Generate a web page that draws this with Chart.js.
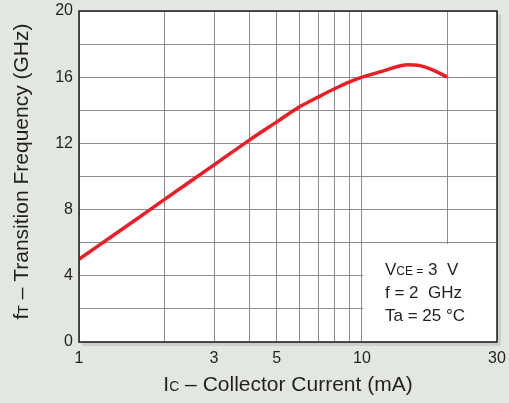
<!DOCTYPE html>
<html>
<head>
<meta charset="utf-8">
<script src="https://cdn.jsdelivr.net/npm/chart.js@4.4.1/dist/chart.umd.min.js"></script>
<style>
  html, body { margin: 0; padding: 0; background: #e2e8e1; }
  #wrap { width: 509px; height: 403px; position: relative; }
</style>
</head>
<body>
<div id="wrap"><canvas id="ftChart"></canvas></div>
<script>
// collector current (mA) vs transition frequency (GHz)
const currentMA = [1, 1.5, 2, 3, 4, 5, 6, 7, 8, 9, 10, 12, 14.5, 16, 18, 20];
const ftGHz = [5.0, 7.1, 8.6, 10.7, 12.2, 13.3, 14.2, 14.8, 15.3, 15.7, 16.0, 16.4, 16.75, 16.7, 16.4, 16.0];
const xGridValues = [1, 2, 3, 4, 5, 6, 7, 8, 9, 10, 20, 30];
const xTickLabels = [1, 3, 5, 10, 30];
const yTickLabels = [0, 4, 8, 12, 16, 20];

const FONT = '"Liberation Sans", Arial, Helvetica, sans-serif';
const TEXT = '#231f20';

// draw runs of [text, size] on one baseline, returns width
function drawRuns(ctx, runs, x, y, measureOnly) {
    let w = 0;
    for (let r of runs) {
        ctx.font = r[1] + 'px ' + FONT;
        if (!measureOnly) ctx.fillText(r[0], x + w, y);
        w += ctx.measureText(r[0]).width;
    }
    return w;
}

const conditionsBox = {
    id: 'conditionsBox',
    beforeDraw(chart) {
        // white plot area
        let a = chart.chartArea;
        let ctx = chart.ctx;
        ctx.save();
        ctx.fillStyle = '#ffffff';
        ctx.fillRect(a.left, a.top, a.right - a.left, a.bottom - a.top);
        ctx.restore();
    },
    beforeDatasetsDraw(chart) {
        // blank out the grid behind the conditions text
        let ctx = chart.ctx;
        let xs = chart.scales.x, ys = chart.scales.y;
        let left = Math.round(xs.getPixelForValue(10)) + 1;
        let top = Math.round(ys.getPixelForValue(6)) + 1;
        ctx.save();
        ctx.fillStyle = '#ffffff';
        ctx.fillRect(left, top, chart.chartArea.right - left, chart.chartArea.bottom - top);
        ctx.restore();
    },
    afterDraw(chart) {
        let ctx = chart.ctx;
        let a = chart.chartArea;
        ctx.save();
        // soft shadow on right and bottom of frame
        ctx.fillStyle = '#ccd2cb';
        ctx.fillRect(a.right + 1, a.top + 3, 3, a.bottom - a.top);
        ctx.fillRect(a.left + 3, a.bottom + 1, a.right - a.left, 3);
        // frame
        ctx.strokeStyle = '#2a2a2a';
        ctx.lineWidth = 1.6;
        ctx.strokeRect(a.left, a.top, a.right - a.left, a.bottom - a.top);

        ctx.fillStyle = TEXT;
        ctx.textBaseline = 'alphabetic';
        ctx.textAlign = 'left';
        // test conditions
        let lines = [
            [['V', 17], ['CE =', 12], [' 3  V', 17]],
            [['f = 2  GHz', 17]],
            [['Ta = 25 \u00b0C', 17]]
        ];
        lines.forEach(function (runs, i) {
            drawRuns(ctx, runs, 385, 275 + i * 23);
        });

        // x axis title
        let xRuns = [['I', 21], ['C', 14], [' \u2013 Collector Current (mA)', 21]];
        let xw = drawRuns(ctx, xRuns, 0, 0, true);
        let cx = (a.left + a.right) / 2;
        drawRuns(ctx, xRuns, cx - xw / 2, 391);

        // y axis title, rotated
        let yRuns = [['f', 21], ['T', 14], [' \u2013 Transition Frequency (GHz)', 21]];
        let yw = drawRuns(ctx, yRuns, 0, 0, true);
        ctx.translate(28, (a.top + a.bottom) / 2 - 5);
        ctx.rotate(-Math.PI / 2);
        drawRuns(ctx, yRuns, -yw / 2, 0);
        ctx.restore();
    }
};

let points = [];
for (let i = 0; i < currentMA.length; i++) {
    points.push({x: currentMA[i], y: ftGHz[i]});
}

let chart = new Chart(document.getElementById('ftChart'), {
    type: 'line',
    data: {
        datasets: [{
            data: points,
            borderColor: '#ee1c25',
            borderWidth: 3.5,
            pointRadius: 0,
            fill: false,
            cubicInterpolationMode: 'monotone'
        }]
    },
    options: {
        responsive: true,
        maintainAspectRatio: false,
        animation: false,
        events: [],
        layout: { padding: { top: 11, right: 12, left: 0, bottom: 0 } },
        plugins: { legend: { display: false }, tooltip: { enabled: false } },
        scales: {
            x: {
                type: 'logarithmic',
                min: 1,
                max: 30,
                afterBuildTicks(scale) {
                    scale.ticks = xGridValues.map(v => ({value: v}));
                },
                afterFit(scale) {
                    scale.height = 61;
                    scale.paddingLeft = 0;
                    scale.paddingRight = 0;
                },
                border: { display: false },
                grid: { color: '#8c8c8c', lineWidth: 1, drawTicks: false },
                ticks: {
                    autoSkip: false,
                    maxRotation: 0,
                    padding: 7,
                    color: TEXT,
                    font: { family: FONT, size: 16 },
                    callback(v) { return xTickLabels.includes(v) ? String(v) : ''; }
                }
            },
            y: {
                min: 0,
                max: 20,
                afterFit(scale) {
                    scale.width = 79;
                    scale.paddingTop = 0;
                    scale.paddingBottom = 0;
                },
                border: { display: false },
                grid: { color: '#8c8c8c', lineWidth: 1, drawTicks: false },
                ticks: {
                    stepSize: 2,
                    padding: 6,
                    color: TEXT,
                    font: { family: FONT, size: 16 },
                    callback(v) { return yTickLabels.includes(v) ? String(v) : ''; }
                }
            }
        }
    },
    plugins: [conditionsBox]
});
</script>
</body>
</html>
